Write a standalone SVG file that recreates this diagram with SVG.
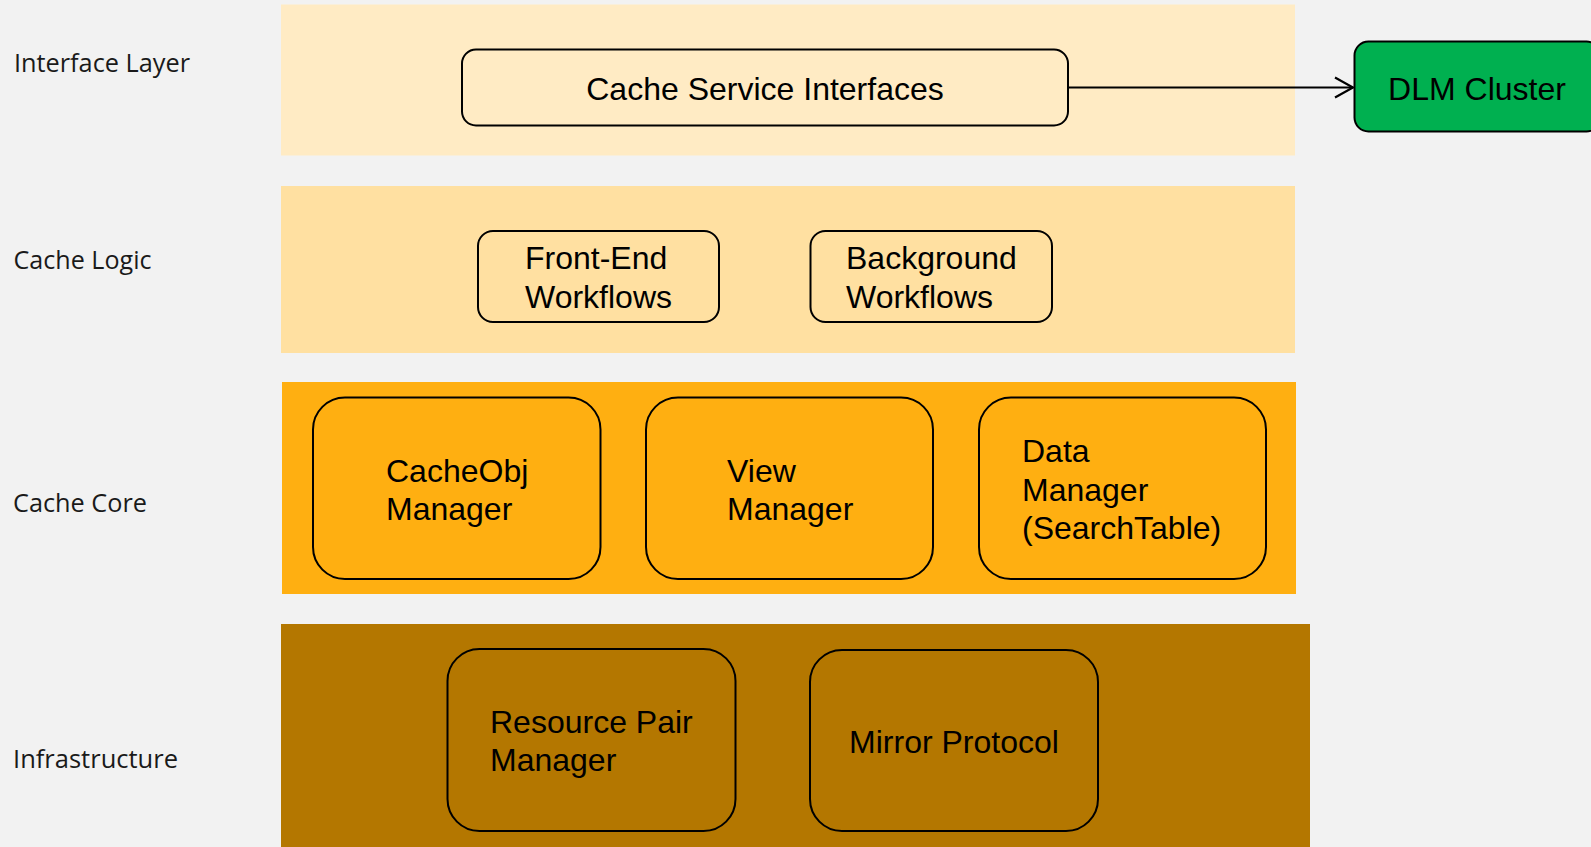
<svg xmlns="http://www.w3.org/2000/svg" width="1591" height="847" viewBox="0 0 1591 847">
  <style>
    .layer-label { font-family: "Open Sans", "Noto Sans", sans-serif; font-size: 25px; fill: #1a1a1a; }
    .node-text { font-family: "Liberation Sans", Arial, sans-serif; font-size: 32px; fill: #000; }
    .box { stroke: #000; stroke-width: 2; }
    .connector { stroke: #000; stroke-width: 2.2; fill: none; }
  </style>
  <defs>
    <marker id="open-arrow" markerUnits="userSpaceOnUse" markerWidth="24" markerHeight="24" viewBox="0 0 24 24" refX="20" refY="12" orient="auto">
      <path d="M2,2 L20,12 L2,22" fill="none" stroke="#000" stroke-width="2.2" stroke-linejoin="miter"/>
    </marker>
  </defs>

  <!-- background -->
  <rect x="0" y="0" width="1591" height="847" fill="#F2F2F2"/>

  <!-- layer bands -->
  <g id="bands">
    <rect x="281" y="4.5" width="1014" height="151" fill="#FFEBC4"/>
    <rect x="281" y="186" width="1014" height="167" fill="#FFE0A1"/>
    <rect x="282" y="382" width="1014" height="212" fill="#FFAF11"/>
    <rect x="281" y="624" width="1029" height="223" fill="#B47700"/>
  </g>

  <!-- layer labels -->
  <g id="labels">
    <text class="layer-label" x="14" y="71.5" textLength="176" lengthAdjust="spacingAndGlyphs">Interface Layer</text>
    <text class="layer-label" x="13.5" y="268.5" textLength="138" lengthAdjust="spacingAndGlyphs">Cache Logic</text>
    <text class="layer-label" x="13" y="511.5" textLength="134" lengthAdjust="spacingAndGlyphs">Cache Core</text>
    <text class="layer-label" x="13" y="768" textLength="165" lengthAdjust="spacingAndGlyphs">Infrastructure</text>
  </g>

  <!-- connectors -->
  <g id="connectors">
    <line class="connector" x1="1068" y1="87.5" x2="1353" y2="87.5" marker-end="url(#open-arrow)"/>
  </g>

  <!-- interface layer -->
  <g id="cache-service-interfaces">
    <rect class="box" x="462" y="49.5" width="606" height="76" rx="14" fill="#FFEBC4"/>
    <text class="node-text" x="765" y="100" text-anchor="middle">Cache Service Interfaces</text>
  </g>
  <g id="dlm-cluster">
    <rect class="box" x="1354.5" y="41.5" width="246" height="90" rx="14" fill="#00B050"/>
    <text class="node-text" x="1477" y="99.5" text-anchor="middle">DLM Cluster</text>
  </g>

  <!-- cache logic -->
  <g id="front-end-workflows">
    <rect class="box" x="478" y="231" width="241" height="91" rx="15" fill="#FFE0A1"/>
    <text class="node-text" x="525" y="269">Front-End</text>
    <text class="node-text" x="525" y="307.5">Workflows</text>
  </g>
  <g id="background-workflows">
    <rect class="box" x="810.5" y="231" width="241.5" height="91" rx="15" fill="#FFE0A1"/>
    <text class="node-text" x="846" y="269">Background</text>
    <text class="node-text" x="846" y="307.5">Workflows</text>
  </g>

  <!-- cache core -->
  <g id="cacheobj-manager">
    <rect class="box" x="313" y="397.5" width="287.5" height="181.5" rx="32" fill="#FFAF11"/>
    <text class="node-text" x="386" y="481.5">CacheObj</text>
    <text class="node-text" x="386" y="520">Manager</text>
  </g>
  <g id="view-manager">
    <rect class="box" x="646" y="397.5" width="287" height="181.5" rx="32" fill="#FFAF11"/>
    <text class="node-text" x="727" y="481.5">View</text>
    <text class="node-text" x="727" y="520">Manager</text>
  </g>
  <g id="data-manager">
    <rect class="box" x="979" y="397.5" width="287" height="181.5" rx="32" fill="#FFAF11"/>
    <text class="node-text" x="1022" y="462">Data</text>
    <text class="node-text" x="1022" y="500.5">Manager</text>
    <text class="node-text" x="1022" y="539">(SearchTable)</text>
  </g>

  <!-- infrastructure -->
  <g id="resource-pair-manager">
    <rect class="box" x="447.5" y="649" width="288" height="182" rx="32" fill="#B47700"/>
    <text class="node-text" x="490" y="732.5">Resource Pair</text>
    <text class="node-text" x="490" y="771">Manager</text>
  </g>
  <g id="mirror-protocol">
    <rect class="box" x="810" y="650" width="288" height="181" rx="32" fill="#B47700"/>
    <text class="node-text" x="954" y="753" text-anchor="middle">Mirror Protocol</text>
  </g>
</svg>
